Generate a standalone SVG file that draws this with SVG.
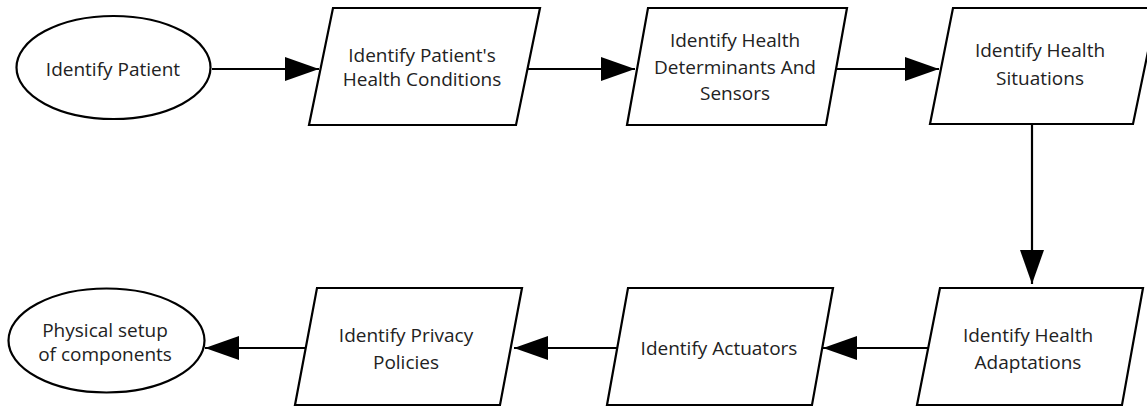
<svg xmlns="http://www.w3.org/2000/svg" width="1147" height="408" viewBox="0 0 1147 408">
  <style>
    .shape { fill: #ffffff; stroke: #000000; stroke-width: 2.2; stroke-linejoin: miter; }
    .label { font-family: "Open Sans", "Liberation Sans", sans-serif; font-size: 19px; fill: #222222; text-anchor: middle; }
    .edge { fill: none; stroke: #000000; stroke-width: 2.2; }
  </style>
  <defs>
    <marker id="arrow" viewBox="0 0 34 24" refX="34" refY="12" markerWidth="34" markerHeight="24" markerUnits="userSpaceOnUse" orient="auto">
      <path d="M0,0 L34,12 L0,24 Z" fill="#000000"/>
    </marker>
  </defs>

  <rect width="1147" height="408" fill="#ffffff"/>

  <!-- connectors -->
  <g id="connectors">
    <line class="edge" x1="212" y1="69" x2="319" y2="69" marker-end="url(#arrow)"/>
    <line class="edge" x1="528" y1="69" x2="635" y2="69" marker-end="url(#arrow)"/>
    <line class="edge" x1="836" y1="69" x2="939" y2="69" marker-end="url(#arrow)"/>
    <line class="edge" x1="1032" y1="124" x2="1032" y2="284" marker-end="url(#arrow)"/>
    <line class="edge" x1="928" y1="348" x2="823" y2="348" marker-end="url(#arrow)"/>
    <line class="edge" x1="617" y1="348" x2="514" y2="348" marker-end="url(#arrow)"/>
    <line class="edge" x1="306" y1="348" x2="205" y2="348" marker-end="url(#arrow)"/>
  </g>

  <!-- start node -->
  <g id="identify-patient">
    <ellipse class="shape" cx="113.5" cy="67.5" rx="97" ry="51.5"/>
    <text class="label" x="113" y="76">Identify Patient</text>
  </g>

  <g id="health-conditions">
    <polygon class="shape" points="333,8 540,8 516,125 309,125"/>
    <text class="label" x="422" y="62">Identify Patient's</text>
    <text class="label" x="422" y="86">Health Conditions</text>
  </g>

  <g id="determinants-sensors">
    <polygon class="shape" points="648,8 847,8 826,125 627,125"/>
    <text class="label" x="735" y="47">Identify Health</text>
    <text class="label" x="735" y="74">Determinants And</text>
    <text class="label" x="735" y="100">Sensors</text>
  </g>

  <g id="health-situations">
    <polygon class="shape" points="953,8 1157,8 1133,124 930,124"/>
    <text class="label" x="1040" y="57">Identify Health</text>
    <text class="label" x="1040" y="85">Situations</text>
  </g>

  <g id="health-adaptations">
    <polygon class="shape" points="940,288 1143,288 1122,405 917,405"/>
    <text class="label" x="1028" y="342">Identify Health</text>
    <text class="label" x="1028" y="369">Adaptations</text>
  </g>

  <g id="actuators">
    <polygon class="shape" points="628,288 833,288 812,405 607,405"/>
    <text class="label" x="719" y="355">Identify Actuators</text>
  </g>

  <g id="privacy-policies">
    <polygon class="shape" points="317,288 522,288 500,405 295,405"/>
    <text class="label" x="406" y="342">Identify Privacy</text>
    <text class="label" x="406" y="369">Policies</text>
  </g>

  <!-- end node -->
  <g id="physical-setup">
    <ellipse class="shape" cx="106.5" cy="340.5" rx="98" ry="52"/>
    <text class="label" x="105" y="337">Physical setup</text>
    <text class="label" x="105" y="361">of components</text>
  </g>
</svg>
